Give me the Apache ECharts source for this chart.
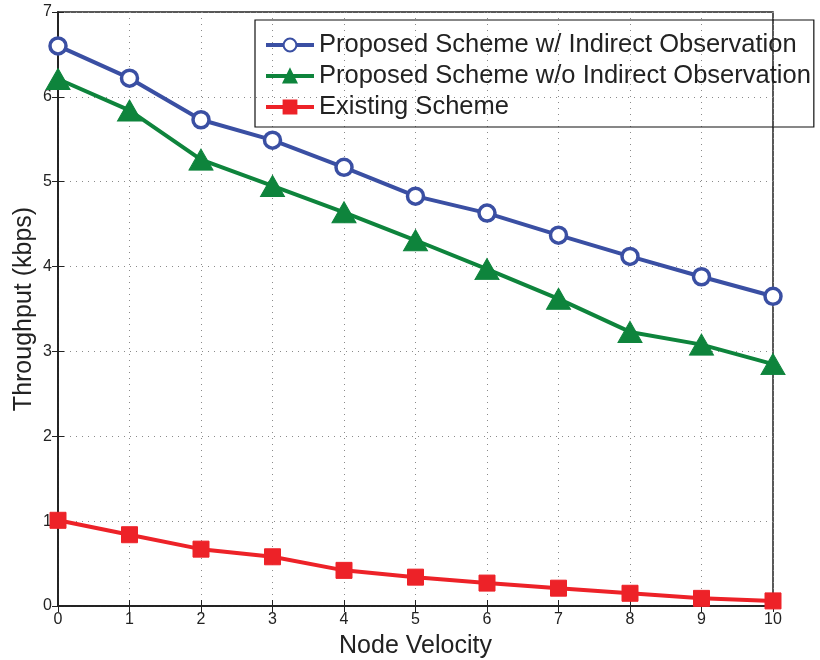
<!DOCTYPE html>
<html><head><meta charset="utf-8">
<script src="https://cdn.jsdelivr.net/npm/echarts@6/dist/echarts.min.js"></script>
<style>html,body{margin:0;padding:0;background:#fff}#c{width:820px;height:660px}</style>
</head><body><div id="c"></div>
<script>
var velocity = [0,1,2,3,4,5,6,7,8,9,10];
var withIndirect = [6.60,6.22,5.73,5.49,5.17,4.83,4.63,4.37,4.12,3.88,3.65];
var withoutIndirect = [6.21,5.84,5.26,4.95,4.64,4.31,3.97,3.62,3.23,3.08,2.85];
var existing = [1.01,0.84,0.67,0.58,0.42,0.34,0.27,0.21,0.15,0.09,0.06];
var names = ['Proposed Scheme w/ Indirect Observation','Proposed Scheme w/o Indirect Observation','Existing Scheme'];

function pairs(v){return velocity.map(function(x,i){return [x,v[i]];});}
var font = 'Liberation Sans, Arial, Helvetica, sans-serif';
var chart = echarts.init(document.getElementById('c'));
var gridLine = {show:true,lineStyle:{color:'#8a8a8a',type:[1,5],width:1}};
chart.setOption({
  animation:false,
  textStyle:{fontFamily:font},
  grid:{left:58,right:47,top:12,bottom:54,show:true,borderColor:'#222',borderWidth:1.5,
        backgroundColor:'transparent',containLabel:false,outerBoundsMode:'none'},
  legend:{
    orient:'vertical',left:255,top:20,
    data:names,
    borderColor:'#111',borderWidth:1.2,
    padding:[12,3,7,9],itemGap:5,itemWidth:48,itemHeight:16,
    lineStyle:{width:4},
    textStyle:{fontSize:25.5,color:'#222',fontFamily:font}
  },
  xAxis:[{
    type:'value',min:0,max:10,interval:1,
    name:'Node Velocity',nameLocation:'middle',nameGap:28,nameMoveOverlap:false,
    nameTextStyle:{fontSize:25,color:'#222'},
    axisLine:{lineStyle:{color:'#222',width:1.5}},
    axisTick:{inside:true,length:6,lineStyle:{color:'#222'}},
    axisLabel:{fontSize:16,color:'#222',margin:6},
    splitLine:gridLine
  },{
    type:'value',min:0,max:10,interval:1,position:'top',
    axisLine:{lineStyle:{color:'#222',width:1.5}},
    axisTick:{inside:true,length:6,lineStyle:{color:'#222'}},
    axisLabel:{show:false},splitLine:{show:false}
  }],
  yAxis:[{
    type:'value',min:0,max:7,interval:1,
    name:'Throughput (kbps)',nameLocation:'middle',nameGap:21,nameMoveOverlap:false,
    nameTextStyle:{fontSize:25,color:'#222'},
    axisLine:{lineStyle:{color:'#222',width:1.5}},
    axisTick:{inside:true,length:6,lineStyle:{color:'#222'}},
    axisLabel:{fontSize:16,color:'#222',margin:6},
    splitLine:gridLine
  },{
    type:'value',min:0,max:7,interval:1,position:'right',
    axisLine:{lineStyle:{color:'#222',width:1.5}},
    axisTick:{inside:true,length:6,lineStyle:{color:'#222'}},
    axisLabel:{show:false},splitLine:{show:false}
  }],
  series:[
    {name:names[0],type:'line',data:pairs(withIndirect),
     symbol:'circle',symbolSize:16,
     lineStyle:{color:'#3a4fa3',width:4},
     itemStyle:{color:'#ffffff',borderColor:'#3a4fa3',borderWidth:3.5}},
    {name:names[1],type:'line',data:pairs(withoutIndirect),
     symbol:'triangle',symbolSize:[24,21],
     lineStyle:{color:'#0e843c',width:4},
     itemStyle:{color:'#0e843c',borderColor:'#0e843c',borderWidth:1}},
    {name:names[2],type:'line',data:pairs(existing),
     symbol:'rect',symbolSize:16,
     lineStyle:{color:'#ed2228',width:4},
     itemStyle:{color:'#ed2228',borderColor:'#ed2228',borderWidth:1}}
  ]
});
</script></body></html>
